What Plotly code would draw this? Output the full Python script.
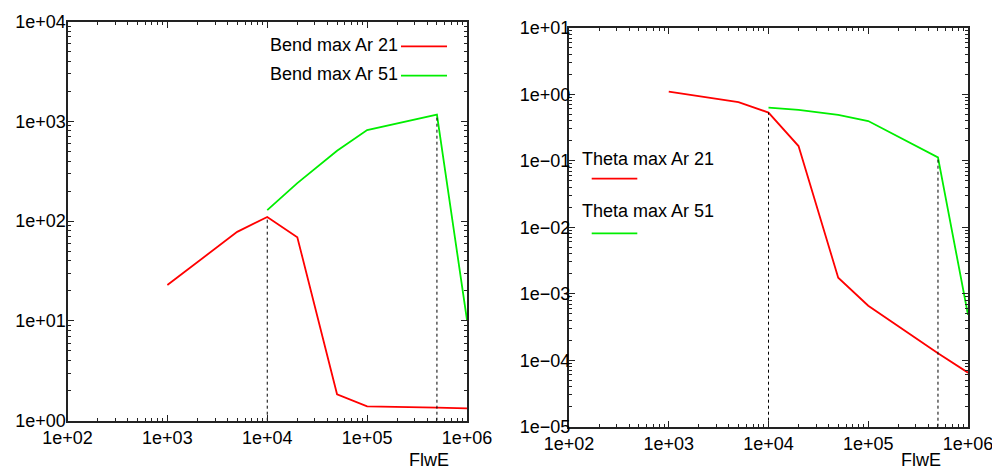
import plotly.graph_objects as go

# ---------------- data ----------------
flwe_21 = [1e3, 5e3, 1e4, 2e4, 5e4, 1e5, 5e5, 1e6]
bend_21 = [22.9, 78, 110, 69, 1.84, 1.39, 1.35, 1.33]
theta_21 = [1.09, 0.76, 0.53, 0.166, 1.74e-3, 6.6e-4, 1.27e-4, 6.5e-5]

flwe_51 = [1e4, 2e4, 5e4, 1e5, 5e5, 1e6]
bend_51 = [129, 240, 507, 818, 1165, 10.2]
theta_51 = [0.63, 0.58, 0.49, 0.395, 0.112, 4.8e-4]

x_tickvals = [1e2, 1e3, 1e4, 1e5, 1e6]
x_ticktext = ["1e+02", "1e+03", "1e+04", "1e+05", "1e+06"]
yl_tickvals = [1e0, 1e1, 1e2, 1e3, 1e4]
yl_ticktext = ["1e+00", "1e+01", "1e+02", "1e+03", "1e+04"]
yr_tickvals = [1e-5, 1e-4, 1e-3, 1e-2, 1e-1, 1e0, 1e1]
yr_ticktext = ["1e\u221205", "1e\u221204", "1e\u221203", "1e\u221202", "1e\u221201", "1e+00", "1e+01"]

RED = "#ff0000"
GREEN = "#00ee00"
FONT = "Liberation Sans"
FS_TICK = 18
FS_TEXT = 18


def minor_vals(decades):
    return [m * 10.0 ** e for e in decades for m in range(2, 10)]


fig = go.Figure()

DASH = dict(color="black", width=1, dash="3px,3px")

# left panel
fig.add_trace(go.Scatter(x=flwe_21, y=bend_21, mode="lines", line=dict(color=RED, width=1.8),
                         xaxis="x", yaxis="y", showlegend=False))
fig.add_trace(go.Scatter(x=flwe_51, y=bend_51, mode="lines", line=dict(color=GREEN, width=1.8),
                         xaxis="x", yaxis="y", showlegend=False))
fig.add_trace(go.Scatter(x=[flwe_21[2], flwe_21[2]], y=[yl_tickvals[0], bend_21[2]], mode="lines",
                         line=DASH, xaxis="x", yaxis="y", showlegend=False))
fig.add_trace(go.Scatter(x=[flwe_51[4], flwe_51[4]], y=[yl_tickvals[0], bend_51[4]], mode="lines",
                         line=DASH, xaxis="x", yaxis="y", showlegend=False))

# right panel
fig.add_trace(go.Scatter(x=flwe_21, y=theta_21, mode="lines", line=dict(color=RED, width=1.8),
                         xaxis="x2", yaxis="y2", showlegend=False))
fig.add_trace(go.Scatter(x=flwe_51, y=theta_51, mode="lines", line=dict(color=GREEN, width=1.8),
                         xaxis="x2", yaxis="y2", showlegend=False))
fig.add_trace(go.Scatter(x=[flwe_21[2], flwe_21[2]], y=[yr_tickvals[0], theta_21[2]], mode="lines",
                         line=DASH, xaxis="x2", yaxis="y2", showlegend=False))
fig.add_trace(go.Scatter(x=[flwe_51[4], flwe_51[4]], y=[yr_tickvals[0], theta_51[4]], mode="lines",
                         line=DASH, xaxis="x2", yaxis="y2", showlegend=False))

W, H = 1000, 471
OFF = 8  # page body margin


def px(v):
    return (v - OFF) / W


def py(v):
    return 1 - (v - OFF) / H


def axis(minor_list, **kw):
    d = dict(type="log", showgrid=False, zeroline=False, showline=True, linecolor="#222222",
             linewidth=2, mirror="ticks", ticks="inside", ticklen=6, tickcolor="#222222",
             tickwidth=1, automargin=False, tickfont=dict(family=FONT, size=FS_TICK, color="black"),
             minor=dict(tickmode="array", tickvals=minor_list, ticks="inside", ticklen=3,
                        tickcolor="#222222", tickwidth=1, showgrid=False))
    d.update(kw)
    return d


fig.update_layout(
    width=W, height=H,
    margin=dict(l=0, r=0, t=0, b=0),
    paper_bgcolor="white", plot_bgcolor="white",
    showlegend=False,
    xaxis=axis(minor_vals(range(2, 6)), domain=[px(67.5), px(467)], range=[2, 6], anchor="y",
               tickvals=x_tickvals, ticktext=x_ticktext),
    yaxis=axis(minor_vals(range(0, 4)), domain=[py(420.7), py(21.5)], range=[0, 4], anchor="x",
               tickvals=yl_tickvals, ticktext=yl_ticktext, ticklabelstandoff=-4),
    xaxis2=axis(minor_vals(range(2, 6)), domain=[px(569), px(968)], range=[2, 6], anchor="y2",
                tickvals=x_tickvals, ticktext=x_ticktext),
    yaxis2=axis(minor_vals(range(-5, 1)), domain=[py(426.7), py(27.7)], range=[-5, 1], anchor="x2",
                tickvals=yr_tickvals, ticktext=yr_ticktext, ticklabelstandoff=-7),
)

ann_font = dict(family=FONT, size=FS_TEXT, color="black")
annotations = [
    dict(text="Bend max Ar 21", x=px(400), y=py(45), xref="paper", yref="paper",
         xanchor="right", yanchor="middle", showarrow=False, font=ann_font),
    dict(text="Bend max Ar 51", x=px(400), y=py(74.5), xref="paper", yref="paper",
         xanchor="right", yanchor="middle", showarrow=False, font=ann_font),
    dict(text="Theta max Ar 21", x=px(580), y=py(159), xref="paper", yref="paper",
         xanchor="left", yanchor="middle", showarrow=False, font=ann_font),
    dict(text="Theta max Ar 51", x=px(580), y=py(211), xref="paper", yref="paper",
         xanchor="left", yanchor="middle", showarrow=False, font=ann_font),
    dict(text="FlwE", x=px(429), y=py(460), xref="paper", yref="paper",
         xanchor="center", yanchor="middle", showarrow=False, font=ann_font),
    dict(text="FlwE", x=px(921), y=py(460), xref="paper", yref="paper",
         xanchor="center", yanchor="middle", showarrow=False, font=ann_font),
]
fig.update_layout(annotations=annotations)

shapes = [
    dict(type="line", xref="paper", yref="paper", x0=px(401), x1=px(447), y0=py(46.3), y1=py(46.3),
         line=dict(color=RED, width=1.8)),
    dict(type="line", xref="paper", yref="paper", x0=px(401), x1=px(447), y0=py(75.7), y1=py(75.7),
         line=dict(color=GREEN, width=1.8)),
    dict(type="line", xref="paper", yref="paper", x0=px(591.7), x1=px(637.3), y0=py(178.7), y1=py(178.7),
         line=dict(color=RED, width=1.8)),
    dict(type="line", xref="paper", yref="paper", x0=px(591.7), x1=px(637.3), y0=py(233.3), y1=py(233.3),
         line=dict(color=GREEN, width=1.8)),
]
fig.update_layout(shapes=shapes)

fig.write_html("out.html")
